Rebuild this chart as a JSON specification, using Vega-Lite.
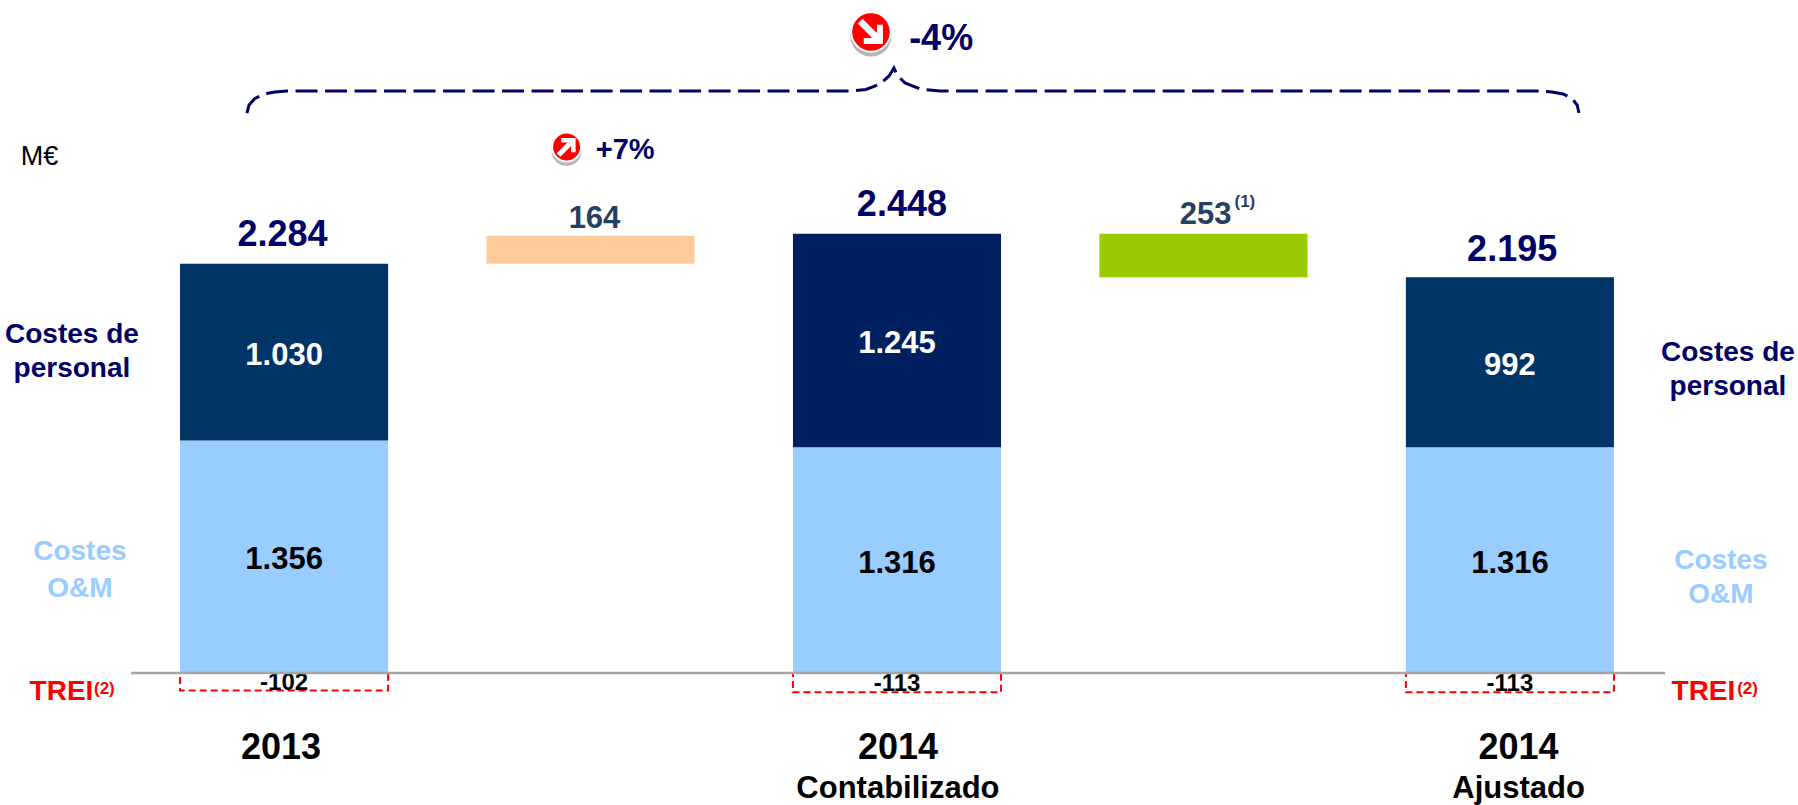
{
"$schema":"https://vega.github.io/schema/vega-lite/v6.json",
"width":1798,"height":805,"padding":0,"autosize":{"type":"none"},
"background":"white","view":{"stroke":null},
"config":{"text":{"font":"Liberation Sans"}},
"datasets":{
"costes":[
{"periodo":"2013","serie":"Costes O&M","valor":1356,"etiqueta":"1.356","orden":1},
{"periodo":"2013","serie":"Costes de personal","valor":1030,"etiqueta":"1.030","orden":2},
{"periodo":"2013","serie":"TREI","valor":-102,"etiqueta":"-102","orden":3},
{"periodo":"2014 Contabilizado","serie":"Costes O&M","valor":1316,"etiqueta":"1.316","orden":1},
{"periodo":"2014 Contabilizado","serie":"Costes de personal contabilizado","valor":1245,"etiqueta":"1.245","orden":2},
{"periodo":"2014 Contabilizado","serie":"TREI","valor":-113,"etiqueta":"-113","orden":3},
{"periodo":"2014 Ajustado","serie":"Costes O&M","valor":1316,"etiqueta":"1.316","orden":1},
{"periodo":"2014 Ajustado","serie":"Costes de personal","valor":992,"etiqueta":"992","orden":2},
{"periodo":"2014 Ajustado","serie":"TREI","valor":-113,"etiqueta":"-113","orden":3}
],
"variaciones":[
{"periodo":"Variación 2013-2014","serie":"Incremento","inicio":2386,"fin":2550},
{"periodo":"Ajuste 2014","serie":"Ajuste","inicio":2308,"fin":2561}
],
"llave":[
{"n":1,"u":-0.121,"v":3265},{"n":2,"u":-0.114,"v":3312},{"n":3,"u":-0.095,"v":3350},{"n":4,"u":-0.065,"v":3376},{"n":5,"u":-0.029,"v":3388},{"n":6,"u":0.010,"v":3394},
{"n":7,"u":1.847,"v":3394},{"n":8,"u":1.899,"v":3402},{"n":9,"u":1.945,"v":3434},{"n":10,"u":1.974,"v":3481},{"n":11,"u":1.990,"v":3528},
{"n":12,"u":2.000,"v":3487},{"n":13,"u":2.026,"v":3440},{"n":14,"u":2.075,"v":3405},{"n":15,"u":2.140,"v":3394},
{"n":16,"u":4.098,"v":3394},{"n":17,"u":4.137,"v":3388},{"n":18,"u":4.173,"v":3376},{"n":19,"u":4.202,"v":3350},{"n":20,"u":4.219,"v":3312},{"n":21,"u":4.225,"v":3265}
],
"iconos":[
{"icono":"baja","u":1.915,"v":3738},
{"icono":"sube","u":0.922,"v":3067}
],
"textos":[
{"texto":"2.284","u":-0.005,"v":2554,"estilo":"total"},
{"texto":"2.448","u":2.016,"v":2729,"estilo":"total"},
{"texto":"2.195","u":4.007,"v":2466,"estilo":"total"},
{"texto":"-4%","u":2.144,"v":3697,"estilo":"total"},
{"texto":"164","u":1.013,"v":2647,"estilo":"variacion"},
{"texto":"253","u":3.007,"v":2670,"estilo":"variacion"},
{"texto":"(1)","u":3.135,"v":2746,"estilo":"nota"},
{"texto":"Costes de","u":-0.692,"v":1973,"estilo":"personal"},
{"texto":"personal","u":-0.692,"v":1772,"estilo":"personal"},
{"texto":"Costes de","u":4.711,"v":1866,"estilo":"personal"},
{"texto":"personal","u":4.711,"v":1667,"estilo":"personal"},
{"texto":"Costes","u":-0.666,"v":708,"estilo":"om"},
{"texto":"O&M","u":-0.666,"v":490,"estilo":"om"},
{"texto":"Costes","u":4.688,"v":655,"estilo":"om"},
{"texto":"O&M","u":4.688,"v":455,"estilo":"om"},
{"texto":"TREI","u":-0.726,"v":-111,"estilo":"trei"},
{"texto":"(2)","u":-0.586,"v":-96,"estilo":"treinota"},
{"texto":"TREI","u":4.631,"v":-111,"estilo":"trei"},
{"texto":"(2)","u":4.775,"v":-96,"estilo":"treinota"},
{"texto":"2013","u":-0.010,"v":-437,"estilo":"anio"},
{"texto":"2014","u":2.003,"v":-437,"estilo":"anio"},
{"texto":"2014","u":4.028,"v":-437,"estilo":"anio"},
{"texto":"Contabilizado","u":2.003,"v":-676,"estilo":"sub"},
{"texto":"Ajustado","u":4.028,"v":-676,"estilo":"sub"},
{"texto":"+7%","u":1.113,"v":3049,"estilo":"chico"}
],
"unidad":[{"texto":"M€","u":-0.798,"v":3009}],
"eje":[{"u":-0.499,"u2":4.506,"v":0}]
},
"resolve":{"scale":{"x":"independent"}},
"layer":[
{
"encoding":{"x":{"field":"periodo","type":"nominal","axis":null,"sort":null,"scale":{"domain":["2013","Variación 2013-2014","2014 Contabilizado","Ajuste 2014","2014 Ajustado"],"paddingInner":0.321,"paddingOuter":0.594,"align":0.4945}}},
"layer":[
{"data":{"name":"costes"},
"mark":{"type":"bar","strokeDash":[7,4],"strokeWidth":2},
"encoding":{
"y":{"field":"valor","type":"quantitative","stack":"zero","axis":null,"scale":{"domain":[-770,3924],"nice":false,"zero":false}},
"fill":{"field":"serie","type":"nominal","legend":null,"scale":{"domain":["Costes O&M","Costes de personal","Costes de personal contabilizado","TREI","Incremento","Ajuste"],"range":["#99CCFF","#003366","#002060","transparent","#FFCC99","#99CC00"]}},
"stroke":{"field":"serie","type":"nominal","legend":null,"scale":{"domain":["Costes O&M","Costes de personal","Costes de personal contabilizado","TREI"],"range":["transparent","transparent","transparent","#FF0000"]}},
"order":{"field":"orden"}
}},
{"data":{"name":"variaciones"},
"mark":{"type":"bar"},
"encoding":{
"y":{"field":"inicio","type":"quantitative","axis":null,"scale":{"domain":[-770,3924],"nice":false,"zero":false}},
"y2":{"field":"fin"},
"fill":{"field":"serie","type":"nominal","legend":null}
}},
{"data":{"name":"costes"},
"transform":[{"filter":"datum.serie != 'TREI'"}],
"mark":{"type":"text","font":"Liberation Sans","fontWeight":"bold","fontSize":31,"baseline":"middle","dy":3.5},
"encoding":{
"y":{"field":"valor","type":"quantitative","stack":"zero","bandPosition":0.5,"axis":null,"scale":{"domain":[-770,3924],"nice":false,"zero":false}},
"detail":{"field":"serie"},
"order":{"field":"orden"},
"text":{"field":"etiqueta"},
"color":{"field":"serie","type":"nominal","legend":null,"scale":{"domain":["Costes O&M","Costes de personal","Costes de personal contabilizado"],"range":["#000000","#FFFFFF","#FFFFFF"]}}
}},
{"data":{"name":"costes"},
"transform":[{"filter":"datum.serie == 'TREI'"}],
"mark":{"type":"text","font":"Liberation Sans","fontWeight":"bold","fontSize":24,"baseline":"middle","color":"#000000","dy":1},
"encoding":{
"y":{"field":"valor","type":"quantitative","stack":"zero","bandPosition":0.5,"axis":null,"scale":{"domain":[-770,3924],"nice":false,"zero":false}},
"text":{"field":"etiqueta"}
}}
]
},
{
"encoding":{"x":{"field":"u","type":"quantitative","axis":null,"scale":{"domain":[-0.9266,4.9396]}},
"y":{"field":"v","type":"quantitative","axis":null,"scale":{"domain":[-770,3924],"nice":false,"zero":false}}},
"resolve":{"scale":{"size":"independent"}},
"layer":[
{"data":{"name":"eje"},
"mark":{"type":"rule","color":"#A6A6A6","strokeWidth":2.5},
"encoding":{"x2":{"field":"u2"}}},
{"data":{"name":"llave"},
"mark":{"type":"line","color":"#000066","strokeWidth":3,"strokeDash":[22,7.5]},
"encoding":{"order":{"field":"n"}}},
{"data":{"name":"iconos"},
"mark":{"type":"point","filled":true,"color":"#B5B5B5","opacity":1,"yOffset":4},
"encoding":{
"size":{"field":"icono","type":"ordinal","legend":null,"scale":{"domain":["baja","sube"],"range":[1700,900]}}}},
{"data":{"name":"iconos"},
"mark":{"type":"point","filled":true,"color":"#FF0000","opacity":1,"stroke":"#FFFFFF","strokeWidth":2},
"encoding":{
"size":{"field":"icono","type":"ordinal","legend":null,"scale":{"domain":["baja","sube"],"range":[1560,840]}}}},
{"data":{"name":"iconos"},
"mark":{"type":"point","filled":true,"color":"#FFFFFF","opacity":1},
"encoding":{
"shape":{"field":"icono","type":"nominal","legend":null,"scale":{"domain":["baja","sube"],"range":["M-0.55,-0.35L-0.35,-0.55L0.25,0.05L0.25,-0.3L0.5,-0.3L0.5,0.5L-0.3,0.5L-0.3,0.25L0.05,0.25Z","M-0.55,0.35L-0.35,0.55L0.25,-0.05L0.25,0.3L0.5,0.3L0.5,-0.5L-0.3,-0.5L-0.3,-0.25L0.05,-0.25Z"]}},
"size":{"field":"icono","type":"ordinal","legend":null,"scale":{"domain":["baja","sube"],"range":[2304,1296]}}}},
{"data":{"name":"textos"},"transform":[{"filter":"datum.estilo == 'total'"}],
"mark":{"type":"text","font":"Liberation Sans","fontWeight":"bold","baseline":"middle","align":"center","fontSize":36,"color":"#000066"},
"encoding":{"text":{"field":"texto"}}},
{"data":{"name":"textos"},"transform":[{"filter":"datum.estilo == 'variacion'"}],
"mark":{"type":"text","font":"Liberation Sans","fontWeight":"bold","baseline":"middle","align":"center","fontSize":31,"color":"#254061"},
"encoding":{"text":{"field":"texto"}}},
{"data":{"name":"textos"},"transform":[{"filter":"datum.estilo == 'nota'"}],
"mark":{"type":"text","font":"Liberation Sans","fontWeight":"bold","baseline":"middle","align":"center","fontSize":17,"color":"#254061"},
"encoding":{"text":{"field":"texto"}}},
{"data":{"name":"textos"},"transform":[{"filter":"datum.estilo == 'personal'"}],
"mark":{"type":"text","font":"Liberation Sans","fontWeight":"bold","baseline":"middle","align":"center","fontSize":28,"color":"#000066"},
"encoding":{"text":{"field":"texto"}}},
{"data":{"name":"textos"},"transform":[{"filter":"datum.estilo == 'om'"}],
"mark":{"type":"text","font":"Liberation Sans","fontWeight":"bold","baseline":"middle","align":"center","fontSize":28,"color":"#99CCFF"},
"encoding":{"text":{"field":"texto"}}},
{"data":{"name":"textos"},"transform":[{"filter":"datum.estilo == 'trei'"}],
"mark":{"type":"text","font":"Liberation Sans","fontWeight":"bold","baseline":"middle","align":"center","fontSize":28,"color":"#FF0000"},
"encoding":{"text":{"field":"texto"}}},
{"data":{"name":"textos"},"transform":[{"filter":"datum.estilo == 'treinota'"}],
"mark":{"type":"text","font":"Liberation Sans","fontWeight":"bold","baseline":"middle","align":"center","fontSize":17,"color":"#FF0000"},
"encoding":{"text":{"field":"texto"}}},
{"data":{"name":"textos"},"transform":[{"filter":"datum.estilo == 'anio'"}],
"mark":{"type":"text","font":"Liberation Sans","fontWeight":"bold","baseline":"middle","align":"center","fontSize":36,"color":"#000000"},
"encoding":{"text":{"field":"texto"}}},
{"data":{"name":"textos"},"transform":[{"filter":"datum.estilo == 'sub'"}],
"mark":{"type":"text","font":"Liberation Sans","fontWeight":"bold","baseline":"middle","align":"center","fontSize":31,"color":"#000000"},
"encoding":{"text":{"field":"texto"}}},
{"data":{"name":"textos"},"transform":[{"filter":"datum.estilo == 'chico'"}],
"mark":{"type":"text","font":"Liberation Sans","fontWeight":"bold","baseline":"middle","align":"center","fontSize":29,"color":"#000066"},
"encoding":{"text":{"field":"texto"}}},
{"data":{"name":"unidad"},
"mark":{"type":"text","font":"Liberation Sans","fontSize":27,"baseline":"middle","align":"center","color":"#000000"},
"encoding":{"text":{"field":"texto"}}}
]
}
]
}
